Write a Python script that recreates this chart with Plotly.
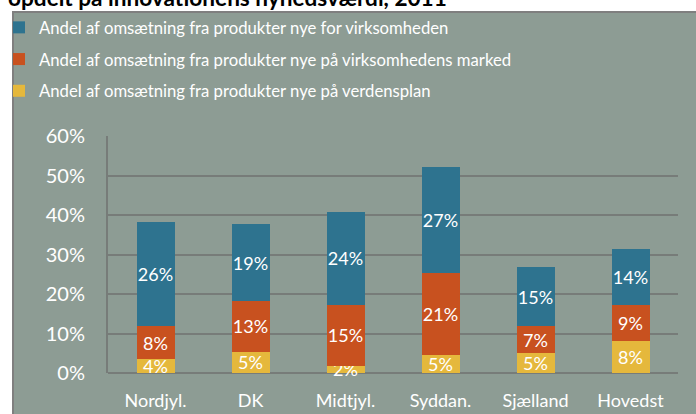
import plotly.graph_objects as go

categories = ["Nordjyl.", "DK", "Midtjyl.", "Syddan.", "Sjælland", "Hovedst"]
verdensplan = [3.6, 5.4, 1.8, 4.6, 5.1, 8.2]
virksomhedens_marked = [8.2, 12.8, 15.4, 20.7, 6.7, 9.0]
virksomheden = [26.4, 19.4, 23.6, 26.9, 15.0, 14.1]
series_names = [
    "Andel af omsætning fra produkter nye på verdensplan",
    "Andel af omsætning fra produkter nye på virksomhedens marked",
    "Andel af omsætning fra produkter nye for virksomheden",
]
legend_ranks = [3, 2, 1]
title_text = "opdelt på innovationens nyhedsværdi, 2011"

W, H = 696, 414
L, R, T, B = 108, 678, 136, 373

def px_x(p):
    return (p - L) / (R - L)

def px_y(p):
    return (B - p) / (B - T)

BG = "#8D9C94"
GRID = "#777C79"
FONT = "Lato"
colors = ["#E5B83C", "#C8511F", "#2E738F"]

fig = go.Figure()
for i, (name, vals, col) in enumerate(zip(series_names, [verdensplan, virksomhedens_marked, virksomheden], colors)):
    fig.add_trace(go.Bar(
        x=categories, y=vals, name=name, marker=dict(color=col, line=dict(width=0)),
        texttemplate="%{y:.0f}%", textposition="inside", insidetextanchor="middle",
        constraintext="none", textangle=0, cliponaxis=False,
        textfont=dict(color="white", size=18, family=FONT),
        legendgroup=f"g{i}", legendrank=legend_ranks[i],
    ))

fig.add_shape(type="rect", xref="paper", yref="paper",
              x0=px_x(13), x1=px_x(702), y0=px_y(420), y1=px_y(12),
              fillcolor=BG, line=dict(color="#7F7F7F", width=2), layer="below")

fig.add_annotation(text="<b>" + title_text + "</b>", xref="paper", yref="paper",
                   x=px_x(6), y=px_y(13), xanchor="left", yanchor="bottom",
                   showarrow=False, font=dict(family=FONT, size=22.6, color="black"))

fig.update_layout(
    width=W, height=H,
    margin=dict(l=L, r=W - R, t=T, b=H - B, autoexpand=False),
    paper_bgcolor="white", plot_bgcolor="rgba(0,0,0,0)",
    barmode="stack", bargap=0.6,
    font=dict(family=FONT, color="white"),
    showlegend=True,
    legend=dict(x=px_x(-1), y=px_y(10), xanchor="left", yanchor="top",
                traceorder="grouped", tracegroupgap=7,
                font=dict(family=FONT, size=16.7, color="white"),
                bgcolor="rgba(0,0,0,0)"),
    xaxis=dict(showgrid=False, showline=False, ticks="", ticklabelstandoff=15,
               tickfont=dict(size=18, color="white", family=FONT)),
    yaxis=dict(range=[0, 60], dtick=10, ticksuffix="%", showgrid=True, gridcolor=GRID, gridwidth=2,
               showline=True, linecolor=GRID, linewidth=2, zeroline=True, zerolinecolor=GRID, zerolinewidth=2,
               ticks="", ticklabelstandoff=17, tickfont=dict(size=20, color="white", family=FONT)),
)

fig.write_html("out.html", config={"displayModeBar": False},
               post_script="document.body.style.margin='0';")
